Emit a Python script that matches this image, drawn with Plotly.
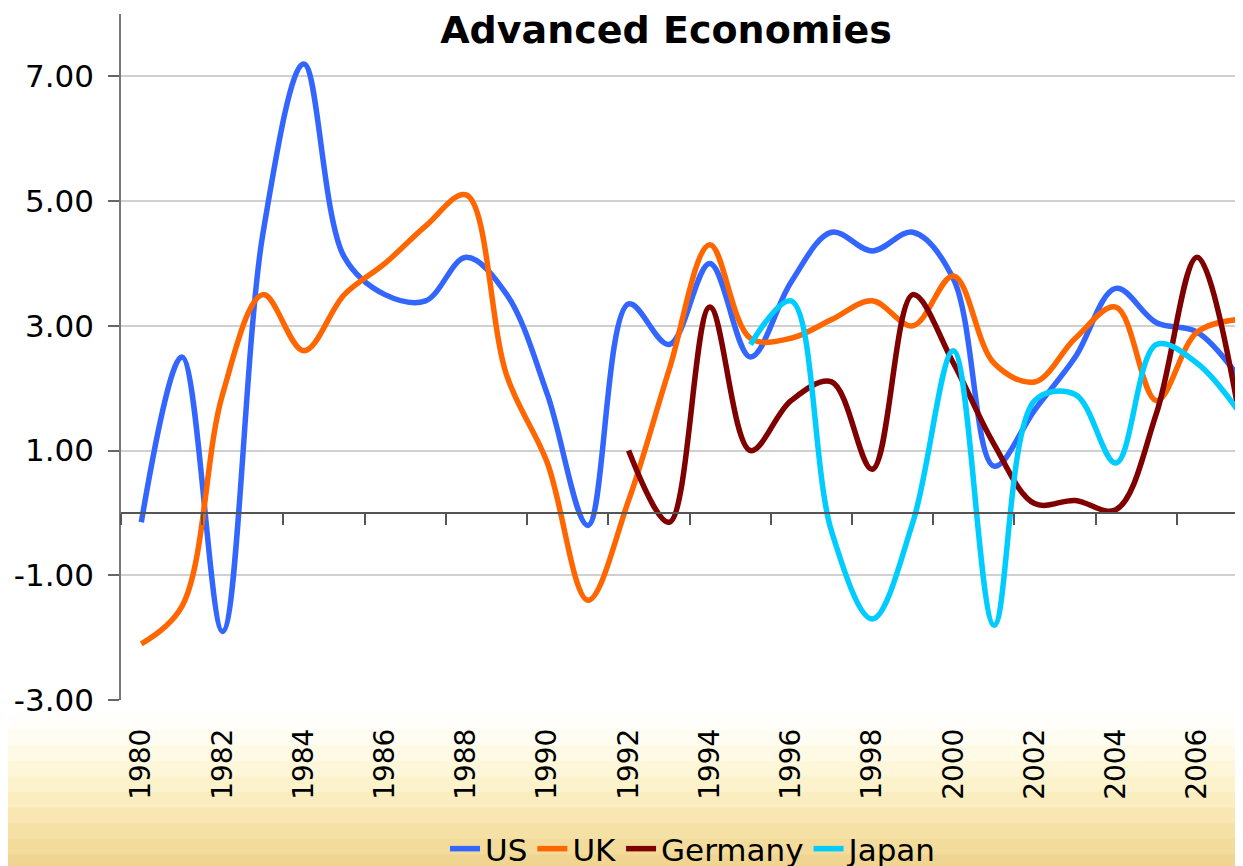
import plotly.graph_objects as go

years = list(range(1980, 2008))

us = [-0.15, 2.5, -1.9, 4.5, 7.2, 4.1, 3.5, 3.4, 4.1, 3.5, 1.9, -0.2, 3.35, 2.7,
      4.0, 2.5, 3.7, 4.5, 4.2, 4.5, 3.75, 0.75, 1.65, 2.5, 3.6, 3.05, 2.9, 2.2]
uk = [-2.1, -1.5, 1.9, 3.5, 2.6, 3.5, 4.0, 4.6, 5.1, 2.2, 0.8, -1.4, 0.2, 2.3,
      4.3, 2.8, 2.8, 3.1, 3.4, 3.0, 3.8, 2.4, 2.1, 2.8, 3.3, 1.8, 2.9, 3.1]
germany_years = list(range(1992, 2008))
germany = [1.0, -0.15, 3.3, 1.0, 1.8, 2.1, 0.7, 3.5, 2.4, 1.1, 0.15, 0.2, 0.05, 1.6, 4.1, 1.7]
japan_years = list(range(1995, 2008))
japan = [2.7, 3.4, -0.3, -1.7, -0.15, 2.6, -1.8, 1.8, 1.9, 0.8, 2.7, 2.4, 1.65]

y_ticks = [-3, -1, 1, 3, 5, 7]
y_tick_text = ["-3.00", "-1.00", "1.00", "3.00", "5.00", "7.00"]
x_label_years = list(range(1980, 2008, 2))
x_tick_marks = [y - 0.5 for y in range(1980, 2008, 2)]

Y_RANGE = [-3, 8]
X_RANGE = [1979.5, 2007.13]

FONT = "DejaVu Sans"

series = [
    ("US", years, us, "#3366FF"),
    ("UK", years, uk, "#FF6600"),
    ("Germany", germany_years, germany, "#800000"),
    ("Japan", japan_years, japan, "#00CCFF"),
]

fig = go.Figure()
for name, xs, ys, col in series:
    fig.add_trace(go.Scatter(
        x=xs, y=ys, name=name, mode="lines",
        line=dict(color=col, width=5.5, shape="spline", smoothing=1.0),
    ))

# page body has an 8px margin: the figure is drawn at (8, 8) on screen
OFF = 8
W, H = 1243, 866
PL, PT, PR, PB = 121, 14, 1243, 700  # plot area on screen
ML = PL - OFF
MT = PT - OFF
MR = (W + OFF) - PR
MB = (H + OFF) - PB
plot_h = PB - PT
plot_w = PR - PL
zero_frac = (0 - Y_RANGE[0]) / (Y_RANGE[1] - Y_RANGE[0])


def py(p):
    """screen row -> paper y"""
    return (PB - p) / plot_h


def px(p):
    """screen column -> paper x"""
    return (p - PL) / plot_w


# background gradient bands (slide background below the plot)
band_cols = ["#FFFEFA", "#FFFDF2", "#FEFAE6", "#FDF6D9", "#FCF2CC", "#FAEDBF",
             "#F8E7B2", "#F5E1A6", "#F2DB9B", "#EFD591"]
n = len(band_cols)
p_top, p_bot = 714, 870
shapes = []
for i, c in enumerate(band_cols):
    a = p_top + (p_bot - p_top) * i / n
    b = p_top + (p_bot - p_top) * (i + 1) / n
    shapes.append(dict(type="rect", xref="paper", yref="paper", x0=px(0), x1=px(W + 10),
                       y0=py(b + 1), y1=py(a), fillcolor=c, line=dict(width=0), layer="below"))

fig.update_layout(
    width=W, height=H,
    margin=dict(l=ML, r=MR, t=MT, b=MB, autoexpand=False),
    paper_bgcolor="white", plot_bgcolor="white",
    font=dict(family=FONT, color="black", size=28),
    title=dict(text="<b>Advanced Economies</b>", x=px(666), xref="paper", xanchor="center",
               y=1 - (30 - OFF) / H, yanchor="middle", font=dict(family=FONT, size=38, color="black")),
    shapes=shapes,
    showlegend=True,
    legend=dict(orientation="h", x=px(694), xanchor="center", y=py(849), yanchor="middle",
                font=dict(family=FONT, size=31, color="black"),
                bgcolor="rgba(0,0,0,0)", itemwidth=30, tracegroupgap=0),
    xaxis=dict(range=X_RANGE, tickmode="array", tickvals=x_label_years,
               ticktext=[str(v) for v in x_label_years], tickangle=-90,
               ticks="", showgrid=False, zeroline=False, showline=False,
               ticklabelstandoff=22, automargin=False, tickfont=dict(family=FONT, size=28)),
    xaxis2=dict(range=X_RANGE, overlaying="x", anchor="free", position=zero_frac,
                tickmode="array", tickvals=x_tick_marks, ticks="outside", ticklen=11,
                tickwidth=1.5, tickcolor="#555555", showticklabels=False,
                showgrid=False, zeroline=False, showline=True, linecolor="#555555",
                linewidth=1.5, side="bottom", automargin=False),
    yaxis=dict(range=Y_RANGE, tickmode="array", tickvals=y_ticks, ticktext=y_tick_text,
               ticks="outside", ticklen=11, tickwidth=1.5, ticklabelstandoff=8,
               tickcolor="#666666", showgrid=True, gridcolor="#D0D0D0", gridwidth=1.5,
               zeroline=False, showline=True, linecolor="#777777", linewidth=1.5,
               automargin=False, tickfont=dict(family=FONT, size=31)),
)

# invisible trace to activate xaxis2 (zero line with tick marks)
fig.add_trace(go.Scatter(x=[X_RANGE[0]], y=[0], xaxis="x2", mode="markers",
                         marker=dict(opacity=0), showlegend=False, hoverinfo="skip"))

fig.write_html("out.html")
